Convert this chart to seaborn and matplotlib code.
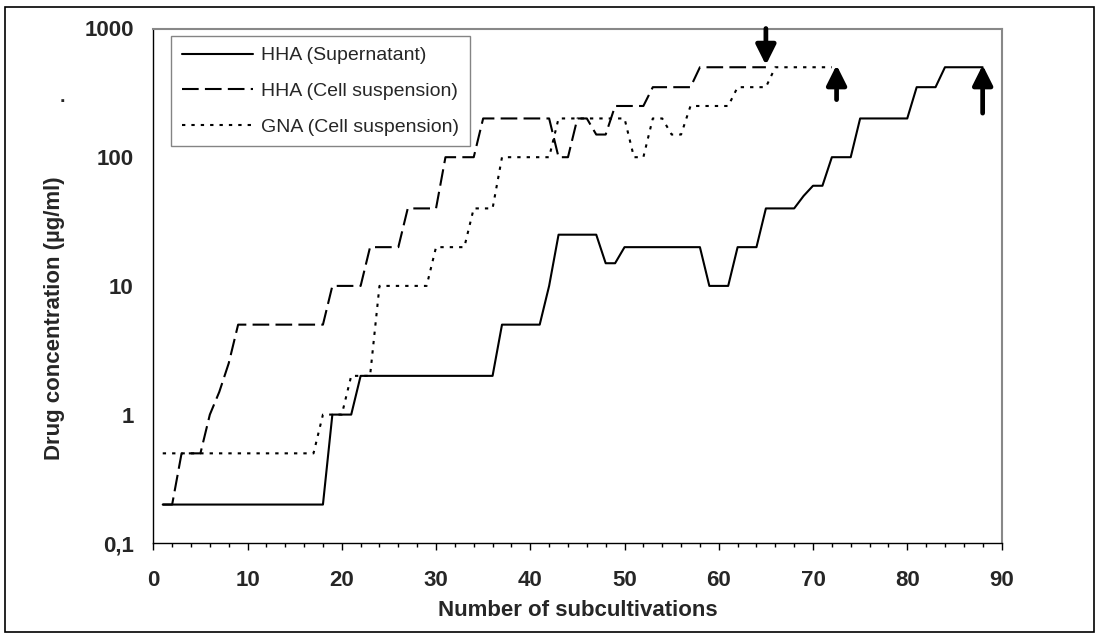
"""Drug concentration over subcultivations (HHA / GNA), log scale."""

import matplotlib.pyplot as plt
import matplotlib.ticker as mtick
from matplotlib.patches import Rectangle
import numpy as np
import pandas as pd
import seaborn as sns

# ── Data (one value per subcultivation) ──────────────────────────────────────
hha_supernatant = (
    [0.2] * 18 + [1] * 3 + [2] * 15 + [5] * 5 + [10] + [25] * 5 + [15] * 2
    + [20] * 9 + [10] * 3 + [20] * 3 + [40] * 4 + [50] + [60] * 2
    + [100] * 3 + [200] * 6 + [350] * 3 + [500] * 5
)
hha_cell = (
    [0.2] * 2 + [0.5] * 3 + [1, 1.5, 2.5] + [5] * 10 + [10] * 4 + [20] * 4
    + [40] * 4 + [100] * 4 + [200] * 8 + [100] * 2 + [200] * 2 + [150] * 2
    + [250] * 4 + [350] * 5 + [500] * 8
)
gna_cell = (
    [0.5] * 17 + [1] * 3 + [2] * 3 + [10] * 6 + [20] * 4 + [40] * 3
    + [100] * 6 + [200] * 8 + [100] * 2 + [200] * 2 + [150] * 2 + [250] * 5
    + [350] * 4 + [500] * 7
)
series_labels = ["HHA (Supernatant)", "HHA (Cell suspension)", "GNA (Cell suspension)"]

# arrows marking the end points
arrow_x = [65, 72.5, 88]
arrow_from = [1000, 280, 220]
arrow_to = [520, 520, 520]

y_ticks = [0.1, 1, 10, 100, 1000]
y_tick_labels = ["0,1", "1", "10", "100", "1000"]

sns.set_theme(style="white")
plt.rcParams["font.family"] = ["Liberation Sans", "DejaVu Sans"]

fig = plt.figure(figsize=(11, 6.37), dpi=100)
ax = fig.add_axes([153.3 / 1100, 1 - 543.3 / 637, 848.2 / 1100, 514.8 / 637])

styles = ["-", (0, (8, 3)), (0, (1.6, 2.9))]
for vals, label, ls in zip([hha_supernatant, hha_cell, gna_cell], series_labels, styles):
    df = pd.DataFrame({"n": np.arange(1, len(vals) + 1), "conc": vals})
    sns.lineplot(data=df, x="n", y="conc", ax=ax, color="black", lw=1.5,
                 linestyle=ls, label=label)

for x, y0, y1 in zip(arrow_x, arrow_from, arrow_to):
    ax.annotate("", xy=(x, y1), xytext=(x, y0),
                arrowprops=dict(arrowstyle="-|>,head_length=0.6,head_width=0.3",
                                mutation_scale=20, lw=3.4, color="black",
                                shrinkA=0, shrinkB=0))

ax.set_yscale("log")
ax.set_ylim(0.1, 1000)
ax.set_xlim(0, 90)
ax.set_yticks(y_ticks)
ax.yaxis.set_major_formatter(mtick.FixedFormatter(y_tick_labels))
ax.yaxis.set_minor_locator(mtick.NullLocator())
ax.set_xticks(range(0, 91, 10))
ax.xaxis.set_minor_locator(mtick.MultipleLocator(2))

ax.tick_params(axis="y", which="major", direction="out", length=6, width=1,
               color="black", pad=8, labelsize=16)
ax.tick_params(axis="x", which="major", direction="out", length=5, width=1,
               color="black", pad=14, labelsize=16, bottom=True)
ax.tick_params(axis="x", which="minor", direction="out", length=3, width=1,
               color="black", bottom=True)
for lab in ax.get_xticklabels() + ax.get_yticklabels():
    lab.set_fontweight("bold")

for side in ["left", "bottom"]:
    ax.spines[side].set_color("black")
    ax.spines[side].set_linewidth(1)
for side in ["top", "right"]:
    ax.spines[side].set_color("#888888")
    ax.spines[side].set_linewidth(1.5)

ax.set_xlabel("Number of subcultivations", fontsize=16, fontweight="bold")
ax.set_ylabel("Drug concentration (µg/ml)", fontsize=16, fontweight="bold")
ax.xaxis.set_label_coords(0.5, -0.111)
ax.yaxis.set_label_coords(-0.104, 0.4376)

leg = ax.legend(loc="upper left", bbox_to_anchor=(0.0209, 0.9854), borderaxespad=0,
                fontsize=14, frameon=True, fancybox=False, handlelength=3.65,
                handletextpad=0.45, labelspacing=0.93, borderpad=0.55)
leg.get_frame().set_edgecolor("#666666")
leg.get_frame().set_linewidth(1)

fig.text(62.5 / 1100, 1 - 102 / 637, ".", fontsize=14, fontweight="bold",
         ha="center", va="baseline")
fig.patches.append(Rectangle((5 / 1100, 5 / 637), 1089 / 1100, 625 / 637,
                             transform=fig.transFigure, fill=False, lw=1.2,
                             ec="black"))

fig.savefig("out.png", dpi=100)
